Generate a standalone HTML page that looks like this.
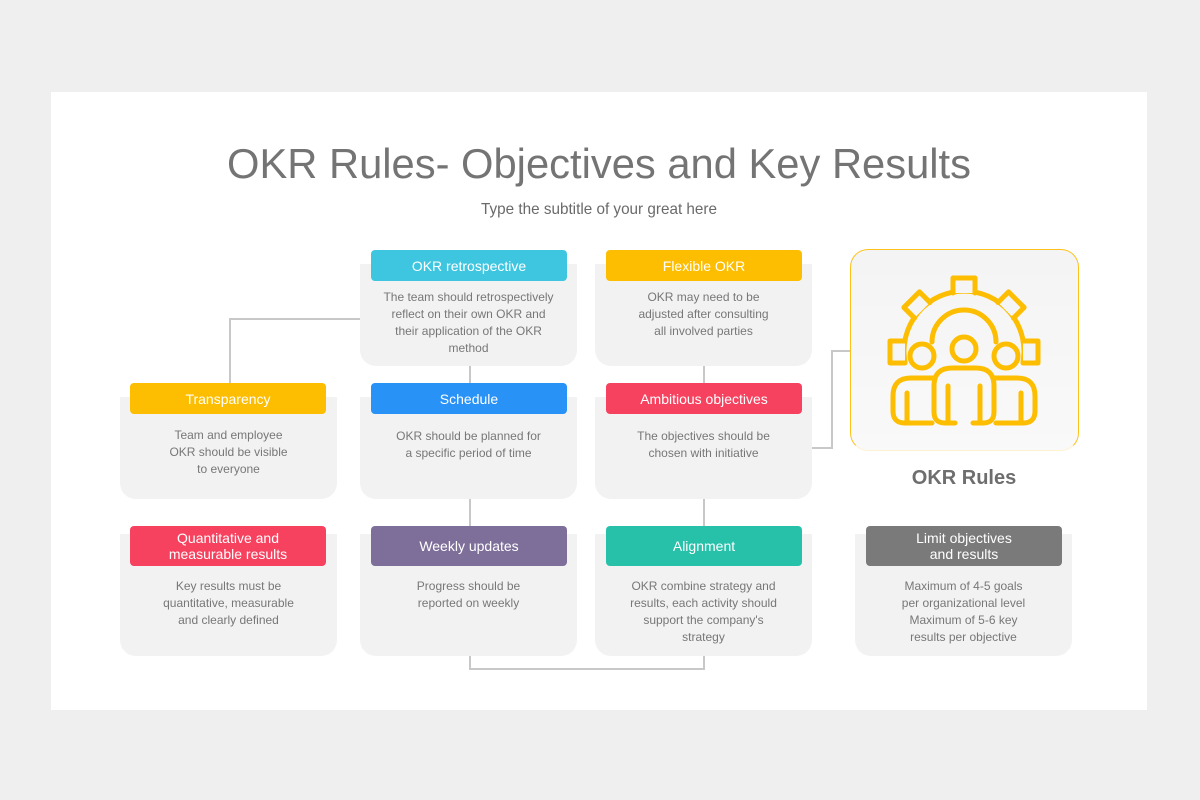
<!DOCTYPE html>
<html><head><meta charset="utf-8"><style>
body{margin:0;width:1200px;height:800px;background:#efefef;font-family:"Liberation Sans",sans-serif;position:relative;overflow:hidden}
.slide{position:absolute;left:51px;top:92px;width:1096px;height:618px;background:#fff}
.card{position:absolute;background:#f2f2f2;border-radius:0 0 16px 16px;width:217px}
.hd{position:absolute;width:196px;border-radius:4px;color:#fff;font-size:14px;text-align:center;display:flex;align-items:center;justify-content:center;line-height:16px}
.tx{position:absolute;width:217px;text-align:center;color:#777;font-size:12px;line-height:17px}
.ln{position:absolute;background:#c8c8c8}
</style></head><body>
<div class="slide"></div>
<svg style="position:absolute;left:0;top:0" width="1200" height="800">
<text x="227" y="178" font-family="Liberation Sans" font-size="42" fill="#747474" textLength="744" lengthAdjust="spacingAndGlyphs">OKR Rules- Objectives and Key Results</text>
<text x="481" y="214" font-family="Liberation Sans" font-size="16" fill="#6a6a6a" textLength="236" lengthAdjust="spacingAndGlyphs">Type the subtitle of your great here</text>
</svg>
<div class="ln" style="left:229px;top:318px;width:131px;height:1.5px"></div>
<div class="ln" style="left:229px;top:318px;width:1.5px;height:66px"></div>
<div class="ln" style="left:469px;top:366px;width:1.5px;height:18px"></div>
<div class="ln" style="left:703px;top:366px;width:1.5px;height:18px"></div>
<div class="ln" style="left:469px;top:499px;width:1.5px;height:28px"></div>
<div class="ln" style="left:703px;top:499px;width:1.5px;height:28px"></div>
<div class="ln" style="left:469px;top:656px;width:1.5px;height:13px"></div>
<div class="ln" style="left:703px;top:656px;width:1.5px;height:13px"></div>
<div class="ln" style="left:469px;top:668px;width:236px;height:1.5px"></div>
<div class="ln" style="left:812px;top:447px;width:20px;height:1.5px"></div>
<div class="ln" style="left:831px;top:350px;width:1.5px;height:99px"></div>
<div class="ln" style="left:831px;top:350px;width:21px;height:1.5px"></div>

<div class="card" style="left:360px;top:264px;height:102px"></div>
<div class="hd" style="left:371px;top:250px;height:31px;background:#3ec6e0">OKR retrospective</div>
<div class="tx" style="left:360px;top:289px">The team should retrospectively<br>reflect on their own OKR and<br>their application of the OKR<br>method</div>
<div class="card" style="left:595px;top:264px;height:102px"></div>
<div class="hd" style="left:606px;top:250px;height:31px;background:#fdbd00">Flexible OKR</div>
<div class="tx" style="left:595px;top:289px">OKR may need to be<br>adjusted after consulting<br>all involved parties</div>
<div class="card" style="left:120px;top:397px;height:102px"></div>
<div class="hd" style="left:130px;top:383px;height:31px;background:#fdbd00">Transparency</div>
<div class="tx" style="left:120px;top:427px">Team and employee<br>OKR should be visible<br>to everyone</div>
<div class="card" style="left:360px;top:397px;height:102px"></div>
<div class="hd" style="left:371px;top:383px;height:31px;background:#2892f6">Schedule</div>
<div class="tx" style="left:360px;top:428px">OKR should be planned for<br>a specific period of time</div>
<div class="card" style="left:595px;top:397px;height:102px"></div>
<div class="hd" style="left:606px;top:383px;height:31px;background:#f6425f">Ambitious objectives</div>
<div class="tx" style="left:595px;top:428px">The objectives should be<br>chosen with initiative</div>
<div class="card" style="left:120px;top:534px;height:122px"></div>
<div class="hd" style="left:130px;top:526px;height:40px;background:#f6425f">Quantitative and<br>measurable results</div>
<div class="tx" style="left:120px;top:578px">Key results must be<br>quantitative, measurable<br>and clearly defined</div>
<div class="card" style="left:360px;top:534px;height:122px"></div>
<div class="hd" style="left:371px;top:526px;height:40px;background:#7e6f9a">Weekly updates</div>
<div class="tx" style="left:360px;top:578px">Progress should be<br>reported on weekly</div>
<div class="card" style="left:595px;top:534px;height:122px"></div>
<div class="hd" style="left:606px;top:526px;height:40px;background:#27c1aa">Alignment</div>
<div class="tx" style="left:595px;top:578px">OKR combine strategy and<br>results, each activity should<br>support the company's<br>strategy</div>
<div class="card" style="left:855px;top:534px;height:122px"></div>
<div class="hd" style="left:866px;top:526px;height:40px;background:#7a7a7a">Limit objectives<br>and results</div>
<div class="tx" style="left:855px;top:578px">Maximum of 4-5 goals<br>per organizational level<br>Maximum of 5-6 key<br>results per objective</div>

<div style="position:absolute;left:850px;top:249px;width:229px;height:202px;border-radius:18px;border:1.5px solid #fdc21a;border-bottom-color:#fff3d0;background:linear-gradient(#f4f4f4,#f9f9f9);box-sizing:border-box"></div>
<svg style="position:absolute;left:0;top:0" width="1200" height="800">
<g fill="none" stroke="#fdbd00" stroke-width="5" stroke-linecap="round" stroke-linejoin="round">
<path d="M905 362 A60 60 0 1 1 1023 362"/>
<g fill="#f5f5f5">
<path d="M953 293 L953 278 L975 278 L975 293" transform="rotate(0 964 352)"/>
<path d="M953 293 L953 278 L975 278 L975 293" transform="rotate(45 964 352)"/>
<path d="M953 293 L953 278 L975 278 L975 293" transform="rotate(-45 964 352)"/>
<path d="M953 293 L953 278 L975 278 L975 293" transform="rotate(90 964 352)"/>
<path d="M953 293 L953 278 L975 278 L975 293" transform="rotate(-90 964 352)"/>
</g>
<path d="M932 342 A32 32 0 0 1 996 342"/>
<circle cx="922" cy="356" r="12" fill="#f5f5f5"/>
<circle cx="1006" cy="356" r="12" fill="#f5f5f5"/>
<circle cx="964" cy="349" r="12" fill="#f5f5f5"/>
<path d="M932 423 L905 423 Q893 423 893 411 L893 396 Q893 378 911 378 L935 378"/>
<path d="M996 423 L1023 423 Q1035 423 1035 411 L1035 396 Q1035 378 1017 378 L993 378"/>
<path d="M955 423 L945 423 Q934 423 934 412 L934 386 Q934 368 952 368 L976 368 Q994 368 994 386 L994 412 Q994 423 983 423 L973 423"/>
<path d="M907 393 L907 421 M1021 393 L1021 421 M948 386 L948 421 M980 386 L980 421"/>
</g>
<text x="964" y="484" text-anchor="middle" font-family="Liberation Sans" font-weight="bold" font-size="20" fill="#6e6e6e">OKR Rules</text>
</svg>
</body></html>
